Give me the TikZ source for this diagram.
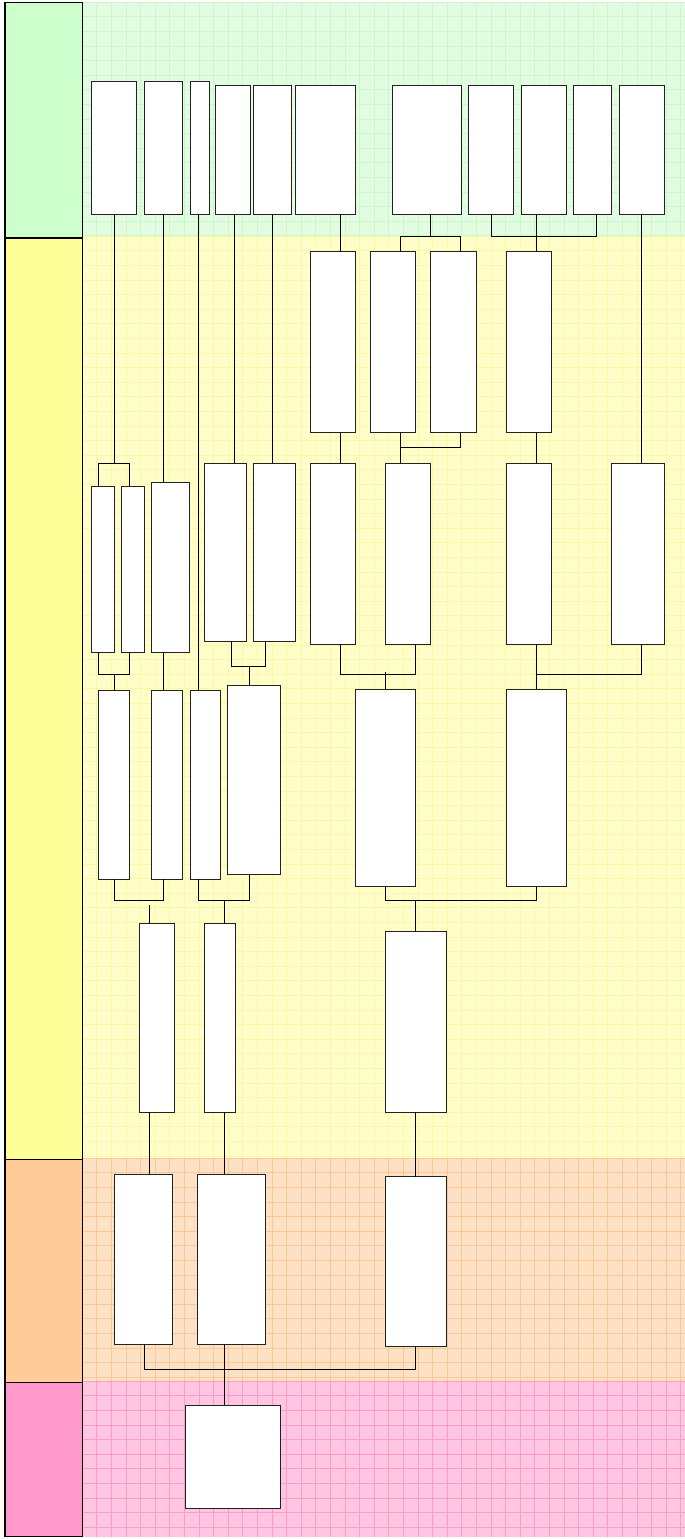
\documentclass[tikz,border=0pt]{standalone}
\usetikzlibrary{fit}
\definecolor{gL}{HTML}{CCFFCC}\definecolor{gBg}{HTML}{E2FCE2}\definecolor{gGr}{HTML}{CBF7CB}
\definecolor{yL}{HTML}{FFFF99}\definecolor{yBg}{HTML}{FFFEC9}\definecolor{yGr}{HTML}{FBF7A6}
\definecolor{oL}{HTML}{FFCC99}\definecolor{oBg}{HTML}{FDE1C5}\definecolor{oGr}{HTML}{FBC795}
\definecolor{pL}{HTML}{FF99CC}\definecolor{pBg}{HTML}{FFC5E1}\definecolor{pGr}{HTML}{FC9CCE}
\definecolor{edge}{HTML}{222222}
\tikzset{
  bx/.style={draw=edge, fill=white, line width=0.8pt, inner sep=0pt, outer sep=0pt},
  lane/.style={draw=black, line width=1.2pt, inner sep=0pt, outer sep=0pt},
  conn/.style={draw=black, line width=0.7pt},
  gridline/.style={line width=0.5pt}
}
\newcommand\mkbox[5]{\node[bx, fit={(#2,#3) (#4,#5)}] (#1) {};}
\begin{document}
\begin{tikzpicture}[x=1pt,y=-1pt]
\useasboundingbox (0,0) rectangle (685,1539);
% background bands with grids
\fill[gBg] (82,2) rectangle (685,236);
\fill[yBg] (82,236) rectangle (685,1158);
\fill[oBg] (82,1158) rectangle (685,1381);
\fill[pBg] (82,1381) rectangle (685,1537);
\begin{scope}[shift={(82,2)}]
  \draw[gGr, gridline, step=14.6pt] (0,0) grid (603,234);
\end{scope}
\begin{scope}[shift={(82,236)}]
  \draw[yGr, gridline, step=14.6pt] (0,0) grid (603,922);
\end{scope}
\begin{scope}[shift={(82,1158)}]
  \draw[oGr, gridline, step=14.6pt] (0,0) grid (603,223);
\end{scope}
\begin{scope}[shift={(82,1381)}]
  \draw[pGr, gridline, step=14.6pt] (0,0) grid (603,156);
\end{scope}
% lane headers
\node[lane, fill=gL, fit={(5,2.7) (82.3,238)}] (lane1) {};
\node[lane, fill=yL, fit={(5,238) (82.3,1159.3)}] (lane2) {};
\node[lane, fill=oL, fit={(5,1159.3) (82.3,1382.3)}] (lane3) {};
\node[lane, fill=pL, fit={(5,1382.3) (82.3,1536.7)}] (lane4) {};
% boxes
\mkbox{b1}{91.3}{81.7}{136.7}{214}
\mkbox{b2}{144}{81.7}{182}{214}
\mkbox{b3}{190.3}{81.7}{209.7}{214}
\mkbox{b4}{215.7}{85.7}{250}{214}
\mkbox{b5}{253.3}{85.7}{291.3}{214}
\mkbox{b6}{295}{85.7}{355.3}{214}
\mkbox{b7}{392.7}{85.7}{461}{214}
\mkbox{b8}{468.3}{85.7}{513.7}{214}
\mkbox{b9}{521}{85.7}{566.7}{214}
\mkbox{b10}{573.7}{85.7}{611.7}{214}
\mkbox{b11}{619}{85.7}{664.7}{214}
\mkbox{r2a}{310}{251.7}{355.7}{432.7}
\mkbox{r2b}{370.3}{251.7}{415.7}{432.7}
\mkbox{r2c}{430.7}{251.7}{476}{432.7}
\mkbox{r2d}{506}{251.7}{551.7}{432.7}
\mkbox{r3a}{91.3}{486}{114.3}{652}
\mkbox{r3b}{121.3}{486}{144.3}{652}
\mkbox{r3c}{151.7}{482}{189.7}{652}
\mkbox{r3d}{204.3}{463.3}{246.3}{641}
\mkbox{r3dd}{253.3}{463.3}{295.3}{641}
\mkbox{r3e}{310}{463.3}{355.7}{644.3}
\mkbox{r3f}{385.3}{463.3}{430.7}{644.3}
\mkbox{r3g}{506}{463.3}{551.7}{644.3}
\mkbox{r3h}{611.7}{463.3}{664.3}{644.3}
\mkbox{r4a}{98.7}{690}{129.7}{879}
\mkbox{r4b}{151.7}{690}{182.3}{879}
\mkbox{r4c}{190.3}{690}{220}{879}
\mkbox{r4d}{227.3}{685.7}{280}{874.3}
\mkbox{r4e}{355.3}{689.3}{415.7}{886}
\mkbox{r4f}{506}{689.3}{566.7}{886}
\mkbox{r5a}{139.3}{923.7}{174.7}{1112.3}
\mkbox{r5b}{204.3}{923.7}{235}{1112.3}
\mkbox{r5c}{385.3}{931.3}{446}{1112.3}
\mkbox{r6a}{114}{1174.3}{172}{1344.3}
\mkbox{r6b}{197}{1174.3}{265}{1344.3}
\mkbox{r6c}{385.7}{1176.7}{446.3}{1346.3}
\mkbox{r7}{185.7}{1405}{280}{1508.7}
% x guides
\coordinate (x98) at (98.7,0);  \coordinate (x114) at (114,0);  \coordinate (x129) at (129.3,0);
\coordinate (x144) at (144,0);  \coordinate (x150) at (149.7,0); \coordinate (x164) at (163.7,0);
\coordinate (x198) at (198.3,0); \coordinate (x224) at (224.3,0); \coordinate (x232) at (231.7,0);
\coordinate (x235) at (234.7,0); \coordinate (x250) at (249.7,0); \coordinate (x265) at (265,0);
\coordinate (x273) at (272.7,0); \coordinate (x340) at (340,0);  \coordinate (x385) at (385.3,0);
\coordinate (x400) at (400.3,0); \coordinate (x415) at (415.6,0); \coordinate (x430) at (430.3,0);
\coordinate (x461) at (460.7,0); \coordinate (x491) at (491,0);  \coordinate (x536) at (536.3,0);
\coordinate (x597) at (596.7,0); \coordinate (x642) at (641.7,0);
% junction coordinates
\coordinate (j1) at (114,463.3);
\coordinate (j7) at (430.3,236);
\coordinate (j9) at (536.3,236);
\coordinate (j11) at (400.3,447.7);
\coordinate (j13) at (114,674.3);
\coordinate (j15) at (249.7,666.7);
\coordinate (j16) at (385.3,671.7);
\coordinate (j17) at (536.3,674.3);
\coordinate (j18) at (149.7,905);
\coordinate (j19) at (224.3,900.7);
\coordinate (j20) at (415.6,900.7);
% connectors
\draw[conn] (b1.south -| x114) -- (j1);
\draw[conn] (r3a.north -| x98) -- (98.7,463.3) -- (129.3,463.3) -- (r3b.north -| x129);
\draw[conn] (b2.south -| x164) -- (r3c.north -| x164);
\draw[conn] (b3.south -| x198) -- (r4c.north -| x198);
\draw[conn] (b4.south -| x235) -- (r3d.north -| x235);
\draw[conn] (b5.south -| x273) -- (r3dd.north -| x273);
\draw[conn] (b6.south -| x340) -- (r2a.north -| x340);
\draw[conn] (b7.south -| x430) -- (j7);
\draw[conn] (r2b.north -| x400) -- (400.3,236) -- (460.7,236) -- (r2c.north -| x461);
\draw[conn] (b8.south -| x491) -- (491,236) -- (596.7,236) -- (b10.south -| x597);
\draw[conn] (b9.south -| x536) -- (r2d.north -| x536);
\draw[conn] (b11.south -| x642) -- (r3h.north -| x642);
\draw[conn] (r2a.south -| x340) -- (r3e.north -| x340);
\draw[conn] (r2b.south -| x400) -- (r3f.north -| x400);
\draw[conn] (j11) -- (460.7,447.7) -- (r2c.south -| x461);
\draw[conn] (r2d.south -| x536) -- (r3g.north -| x536);
\draw[conn] (r3a.south -| x98) -- (98.7,674.3) -- (129.3,674.3) -- (r3b.south -| x129);
\draw[conn] (j13) -- (r4a.north -| x114);
\draw[conn] (r3c.south -| x164) -- (r4b.north -| x164);
\draw[conn] (r3d.south -| x232) -- (231.7,666.7) -- (265,666.7) -- (r3dd.south -| x265);
\draw[conn] (j15) -- (r4d.north -| x250);
\draw[conn] (r3e.south -| x340) -- (340,674.3) -- (415.6,674.3) -- (r3f.south -| x415);
\draw[conn] (j16) -- (r4e.north -| x385);
\draw[conn] (r3g.south -| x536) -- (r4f.north -| x536);
\draw[conn] (j17) -- (641.7,674.3) -- (r3h.south -| x642);
\draw[conn] (r4a.south -| x114) -- (114,900.7) -- (163.7,900.7) -- (r4b.south -| x164);
\draw[conn] (j18) -- (r5a.north -| x150);
\draw[conn] (r4c.south -| x198) -- (198.3,900.7) -- (249.7,900.7) -- (r4d.south -| x250);
\draw[conn] (j19) -- (r5b.north -| x224);
\draw[conn] (r4e.south -| x385) -- (385.3,900.7) -- (536.3,900.7) -- (r4f.south -| x536);
\draw[conn] (j20) -- (r5c.north -| x415);
\draw[conn] (r5a.south -| x150) -- (r6a.north -| x150);
\draw[conn] (r5b.south -| x224) -- (r6b.north -| x224);
\draw[conn] (r5c.south -| x415) -- (r6c.north -| x415);
\draw[conn] (r6a.south -| x144) -- (144,1369) -- (415.6,1369) -- (r6c.south -| x415);
\draw[conn] (r6b.south -| x224) -- (r7.north -| x224);
\end{tikzpicture}
\end{document}
